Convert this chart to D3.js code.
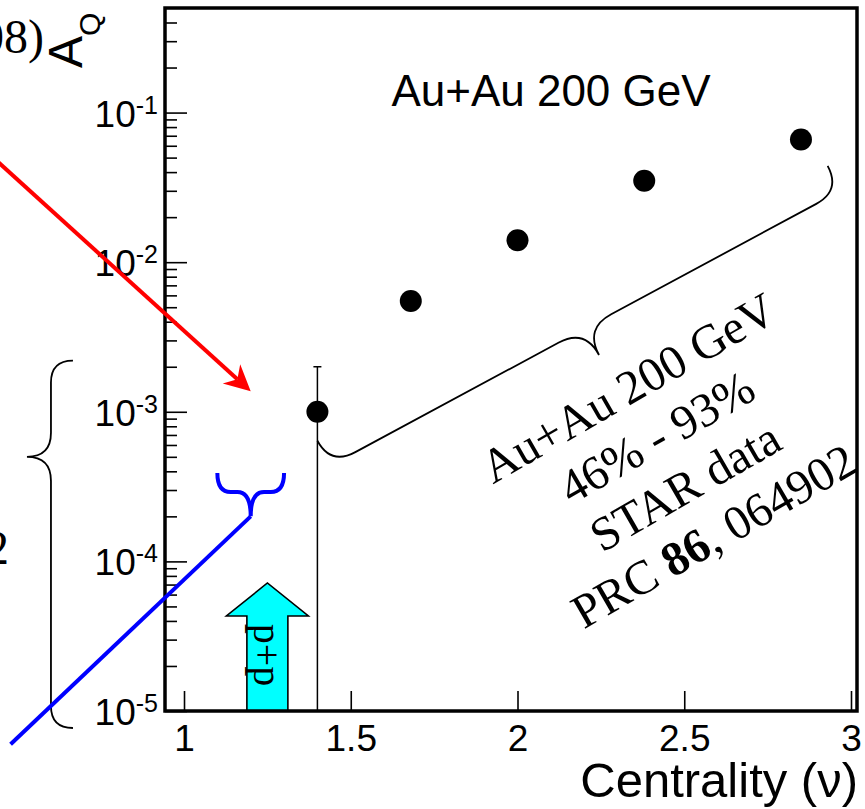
<!DOCTYPE html>
<html>
<head>
<meta charset="utf-8">
<script src="https://cdn.jsdelivr.net/npm/d3@7"></script>
<style>
  body { margin: 0; background: #fff; }
  svg { display: block; }
</style>
</head>
<body>
<svg id="chart" width="865" height="809"></svg>
<script>
// ---- data -------------------------------------------------------------
// centrality ν for Au+Au 200 GeV, 46%-93%
const nu = [1.40, 1.68, 2.00, 2.38, 2.85];
// measured A_Q
const aq = [1.0e-3, 5.5e-3, 1.4e-2, 3.5e-2, 6.6e-2];
// symmetric uncertainty on A_Q (only the most peripheral bin has a visible bar)
const aqErr = [1.0e-3, 0, 0, 0, 0];

const xTicks = [1, 1.5, 2, 2.5, 3];
const xTickLabels = ["1", "1.5", "2", "2.5", "3"];
const yDecades = [-5, -4, -3, -2, -1];

const noteLines = ["Au+Au 200 GeV", "46% - 93%", "STAR data", "PRC 86, 064902"];

// annotation anchors, in (ν, A_Q) coordinates
const redArrowFrom = [0.40, 0.057];
const redArrowTo = [1.20, 1.37e-3];
const blueLineFrom = [1.20, 2.0e-4];
const blueLineTo = [0.48, 6.0e-6];
const blueBraceEnds = [[1.10, 3.9e-4], [1.30, 3.9e-4]];
const leftBraceEnds = [[0.667, 2.2e-3], [0.667, 7.7e-6]];
const leftBraceCusp = 5.0e-4;
const dataBraceEnds = [[1.40, 6.4e-4], [2.93, 4.4e-2]];
const ppArrowNu = 1.25;

// ---- setup ------------------------------------------------------------
const sans = "'Liberation Sans', Arial, Helvetica, sans-serif";
const serif = "'Liberation Serif', 'Times New Roman', Times, serif";

const svg = d3.select("#chart");
const plot = { left: 165, right: 857, top: 8, bottom: 711 };

const x = d3.scaleLinear().domain([0.943, 3.018]).range([plot.left, plot.right]);
const y = d3.scaleLog().domain([1e-5, 0.5]).range([plot.bottom, plot.top]);
const P = d => [x(d[0]), y(d[1])];

// curly brace between two points, bulging to the right-hand side of p1->p2
// curl: depth of the curled ends, cusp: extra depth of the middle point,
// at: fraction along the chord where the cusp sits
function bracePath(p1, p2, curl, cusp, at) {
  const dx = p2[0] - p1[0], dy = p2[1] - p1[1];
  const L = Math.hypot(dx, dy);
  const m = L * at;
  const r = Math.min(curl, L * 0.2);
  const r2 = Math.min(cusp, L * 0.2);
  const p = d3.path();
  p.moveTo(0, 0);
  p.quadraticCurveTo(0, curl, r, curl);
  p.lineTo(m - r2, curl);
  p.quadraticCurveTo(m, curl, m, curl + cusp);
  p.quadraticCurveTo(m, curl, m + r2, curl);
  p.lineTo(L - r, curl);
  p.quadraticCurveTo(L, curl, L, 0);
  return {
    d: p.toString(),
    transform: `translate(${p1[0]},${p1[1]}) rotate(${Math.atan2(dy, dx) * 180 / Math.PI})`
  };
}

// ---- axes ticks -------------------------------------------------------
const minorTicks = [];
yDecades.forEach(e => {
  for (let m = 2; m <= 9; m++) {
    const v = m * Math.pow(10, e);
    if (v < y.domain()[1]) minorTicks.push(v);
  }
});

const yMinor = svg.append("g")
  .attr("transform", `translate(${plot.left},0)`)
  .call(d3.axisLeft(y).tickValues(minorTicks).tickSize(-12).tickFormat(""));
const yMajor = svg.append("g")
  .attr("transform", `translate(${plot.left},0)`)
  .call(d3.axisLeft(y).tickValues(yDecades.map(e => Math.pow(10, e))).tickSize(-22).tickFormat(""));
[yMinor, yMajor].forEach(g => {
  g.select(".domain").remove();
  g.selectAll("line").attr("stroke", "#000").attr("stroke-width", 1.6);
});

// y tick labels as 10^n
const yLab = svg.append("g");
yDecades.forEach(e => {
  const t = yLab.append("text")
    .attr("x", plot.left - 7)
    .attr("y", y(Math.pow(10, e)) + 14)
    .attr("text-anchor", "end")
    .attr("font-family", sans)
    .attr("fill", "#000");
  t.append("tspan").attr("font-size", 37).text("10");
  t.append("tspan").attr("font-size", 25).attr("dy", -13).text(String(e));
});

const xAxis = svg.append("g")
  .attr("transform", `translate(0,${plot.bottom})`)
  .call(d3.axisBottom(x).tickValues(xTicks).tickSize(-20).tickPadding(14)
    .tickFormat((d, i) => xTickLabels[i]));
xAxis.select(".domain").remove();
xAxis.selectAll("line").attr("stroke", "#000").attr("stroke-width", 1.6);
xAxis.selectAll("text")
  .attr("font-family", sans).attr("font-size", 37).attr("fill", "#000");

// axis titles
svg.append("text")
  .attr("x", plot.right + 1).attr("y", 797)
  .attr("text-anchor", "end")
  .attr("font-family", sans).attr("font-size", 49)
  .text("Centrality (ν)");

const yTitle = svg.append("text")
  .attr("transform", "translate(82,68) rotate(-90)")
  .attr("font-family", sans);
yTitle.append("tspan").attr("font-size", 48).text("A");
yTitle.append("tspan").attr("font-size", 30).attr("dy", 18).text("Q");

// fragments of neighbouring text
svg.append("text")
  .attr("x", 44).attr("y", 53).attr("text-anchor", "end")
  .attr("font-family", serif).attr("font-size", 48)
  .text("(2008)");
svg.append("text")
  .attr("x", 9).attr("y", 564).attr("text-anchor", "end")
  .attr("font-family", serif).attr("font-size", 48)
  .text("2");

// header inside the frame
svg.append("text")
  .attr("x", 551).attr("y", 106).attr("text-anchor", "middle")
  .attr("font-family", sans).attr("font-size", 44)
  .text("Au+Au 200 GeV");

// ---- p+p arrow --------------------------------------------------------
{
  const cx = x(ppArrowNu), base = plot.bottom;
  const shaft = 20.5, head = 41, headTop = 583, headBase = 616;
  const pts = [
    [cx - shaft, base], [cx - shaft, headBase], [cx - head, headBase],
    [cx, headTop], [cx + head, headBase], [cx + shaft, headBase], [cx + shaft, base]
  ];
  svg.append("path")
    .attr("d", d3.line()(pts) + "Z")
    .attr("fill", "#00ffff").attr("stroke", "#000").attr("stroke-width", 1.6)
    .attr("stroke-linejoin", "miter");
  svg.append("text")
    .attr("transform", `translate(${cx - 13},${655}) rotate(90)`)
    .attr("text-anchor", "middle")
    .attr("font-family", serif).attr("font-size", 40)
    .text("p+p");
}

// ---- data -------------------------------------------------------------
const pts = nu.map((v, i) => ({ nu: v, a: aq[i], e: aqErr[i] }));
const ymin = y.domain()[0];

svg.append("g").selectAll("g.err")
  .data(pts.filter(d => d.e > 0))
  .join("g").attr("class", "err")
  .each(function (d) {
    const g = d3.select(this);
    const lo = Math.max(d.a - d.e, ymin), hi = d.a + d.e;
    g.append("line")
      .attr("x1", x(d.nu)).attr("x2", x(d.nu))
      .attr("y1", y(lo)).attr("y2", y(hi))
      .attr("stroke", "#000").attr("stroke-width", 1.5);
    g.append("line")
      .attr("x1", x(d.nu) - 4).attr("x2", x(d.nu) + 4)
      .attr("y1", y(hi)).attr("y2", y(hi))
      .attr("stroke", "#000").attr("stroke-width", 1.5);
  });

svg.append("g").selectAll("circle")
  .data(pts)
  .join("circle")
  .attr("cx", d => x(d.nu))
  .attr("cy", d => y(d.a))
  .attr("r", 11)
  .attr("fill", "#000");

// brace grouping the STAR points, with its caption
{
  const b = bracePath(P(dataBraceEnds[0]), P(dataBraceEnds[1]), 28, 30, 0.498);
  svg.append("path").attr("d", b.d).attr("transform", b.transform)
    .attr("fill", "none").attr("stroke", "#000").attr("stroke-width", 1.8);

  const note = svg.append("g").attr("transform", "translate(671,462) rotate(-30)");
  noteLines.forEach((line, i) => {
    const t = note.append("text")
      .attr("x", 0).attr("y", (i - 1.5) * 57 + 16)
      .attr("text-anchor", "middle")
      .attr("font-family", serif).attr("font-size", 48);
    if (line.startsWith("PRC")) {
      t.append("tspan").text("PRC ");
      t.append("tspan").attr("font-weight", "bold").text("86");
      t.append("tspan").text(", 064902");
    } else {
      t.text(line);
    }
  });
}

// ---- frame ------------------------------------------------------------
svg.append("rect")
  .attr("x", plot.left).attr("y", plot.top)
  .attr("width", plot.right - plot.left).attr("height", plot.bottom - plot.top)
  .attr("fill", "none").attr("stroke", "#000").attr("stroke-width", 3.5);

// ---- annotations ------------------------------------------------------
// left brace
{
  const p1 = P(leftBraceEnds[0]), p2 = P(leftBraceEnds[1]);
  const at = (y(leftBraceCusp) - p1[1]) / (p2[1] - p1[1]);
  const b = bracePath(p1, p2, 22, 24, at);
  svg.append("path").attr("d", b.d).attr("transform", b.transform)
    .attr("fill", "none").attr("stroke", "#000").attr("stroke-width", 1.8);
}

// blue brace and line
{
  const p1 = P(blueBraceEnds[0]), p2 = P(blueBraceEnds[1]);
  const tip = P(blueLineFrom);
  const curl = 19;
  const b = bracePath(p1, p2, curl, tip[1] - p1[1] - curl, 0.5);
  svg.append("path").attr("d", b.d).attr("transform", b.transform)
    .attr("fill", "none").attr("stroke", "#0000ff").attr("stroke-width", 4);
  svg.append("line")
    .attr("x1", tip[0]).attr("y1", tip[1])
    .attr("x2", x(blueLineTo[0])).attr("y2", y(blueLineTo[1]))
    .attr("stroke", "#0000ff").attr("stroke-width", 4);
}

// red arrow
{
  const a = P(redArrowFrom), t = P(redArrowTo);
  const len = Math.hypot(t[0] - a[0], t[1] - a[1]);
  const ux = (t[0] - a[0]) / len, uy = (t[1] - a[1]) / len;
  const nx = -uy, ny = ux;
  const hl = 26, hw = 13, notch = 18;
  svg.append("line")
    .attr("x1", a[0]).attr("y1", a[1])
    .attr("x2", t[0] - ux * notch).attr("y2", t[1] - uy * notch)
    .attr("stroke", "#ff0000").attr("stroke-width", 4);
  const head = [
    t,
    [t[0] - ux * hl + nx * hw, t[1] - uy * hl + ny * hw],
    [t[0] - ux * notch, t[1] - uy * notch],
    [t[0] - ux * hl - nx * hw, t[1] - uy * hl - ny * hw]
  ];
  svg.append("path").attr("d", d3.line()(head) + "Z").attr("fill", "#ff0000");
}
</script>
</body>
</html>
